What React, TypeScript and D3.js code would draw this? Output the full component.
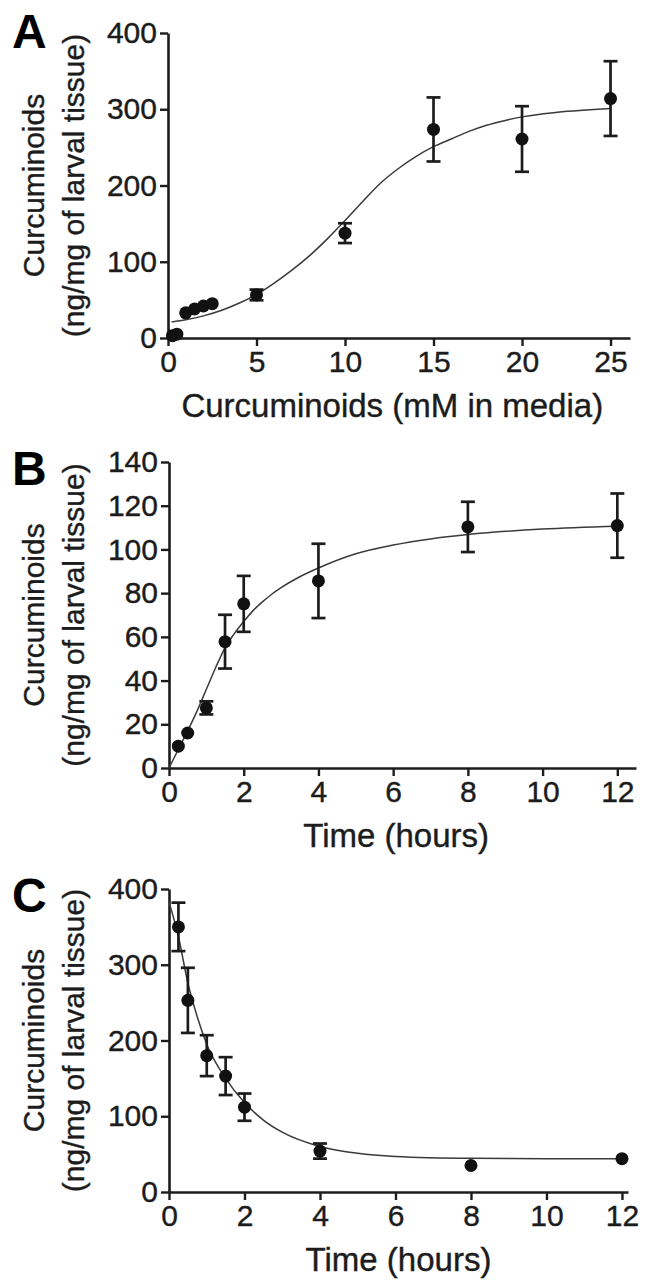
import React, { useEffect, useRef } from "react";
import * as d3 from "d3";

// Panel A: uptake vs concentration in media
const concA = [0.25, 0.5, 1, 1.5, 2, 2.5, 5, 10, 15, 20, 25];
const meanA = [3, 5, 33, 38, 42, 45, 56.5, 137.5, 273.5, 261, 314];
const errA = [0, 0, 0, 0, 0, 0, 7, 13, 42, 43, 49];
const fitXA = [0.2, 1, 2, 3, 4, 5, 6, 7, 8, 9, 10, 11, 12, 13, 14, 15, 16, 17, 18, 19, 20, 22, 25];
const fitYA = [21, 24, 29, 36, 45.5, 57, 72, 89, 108, 130, 154, 179, 203, 222, 238, 251, 261, 271, 279, 285, 290, 296, 301];

// Panel B: uptake over time
const timeB = [0.25, 0.5, 1, 1.5, 2, 4, 8, 12];
const meanB = [10, 16, 27.5, 57.8, 75.1, 85.6, 110.3, 110.9];
const errB = [0, 0, 3, 12.3, 12.8, 17, 11.5, 14.7];
const fitXB = [0, 0.25, 0.5, 0.75, 1, 1.25, 1.5, 1.75, 2, 2.25, 2.5, 2.75, 3, 3.5, 4, 5, 6, 7, 8, 10, 12];
const fitYB = [0, 8.5, 17, 26, 36, 46, 55, 61.5, 67, 72, 76, 79.5, 82.5, 87.5, 91.5, 98, 102, 104.8, 106.8, 109.3, 110.6];

// Panel C: clearance over time
const timeC = [0.25, 0.5, 1, 1.5, 2, 4, 8, 12];
const meanC = [350, 253, 180, 153, 112, 54, 35, 44];
const errC = [32, 43, 27, 25, 18, 10, 0, 0];
const fitXC = [0, 0.25, 0.5, 0.75, 1, 1.5, 2, 2.5, 3, 4, 5, 6, 8, 10, 12];
const fitYC = [383, 337, 276, 231, 195, 150, 118, 95, 79, 60, 51, 47, 44.5, 44, 44];

const ticksA = { x: [0, 5, 10, 15, 20, 25], y: [0, 100, 200, 300, 400] };
const ticksB = { x: [0, 2, 4, 6, 8, 10, 12], y: [0, 20, 40, 60, 80, 100, 120, 140] };
const ticksC = { x: [0, 2, 4, 6, 8, 10, 12], y: [0, 100, 200, 300, 400] };

const FONT = "'Liberation Sans', Arial, Helvetica, sans-serif";
const INK = "#1c1c1c";

type PanelSpec = {
  letter: string;
  xs: number[];
  ys: number[];
  errs: number[];
  fitX: number[];
  fitY: number[];
  ticks: { x: number[]; y: number[] };
  xDomain: [number, number];
  xRange: [number, number];
  yDomain: [number, number];
  yRange: [number, number];
  xTitle: string;
  letterY: number;
};

const panels: PanelSpec[] = [
  {
    letter: "A", xs: concA, ys: meanA, errs: errA, fitX: fitXA, fitY: fitYA, ticks: ticksA,
    xDomain: [0, 26.1], xRange: [168, 630], yDomain: [0, 400], yRange: [338, 33],
    xTitle: "Curcuminoids (mM in media)", letterY: 48,
  },
  {
    letter: "B", xs: timeB, ys: meanB, errs: errB, fitX: fitXB, fitY: fitYB, ticks: ticksB,
    xDomain: [0, 12.5], xRange: [169, 636], yDomain: [0, 140], yRange: [768, 462],
    xTitle: "Time (hours)", letterY: 485,
  },
  {
    letter: "C", xs: timeC, ys: meanC, errs: errC, fitX: fitXC, fitY: fitYC, ticks: ticksC,
    xDomain: [0, 12.16], xRange: [169, 628], yDomain: [0, 400], yRange: [1192, 889],
    xTitle: "Time (hours)", letterY: 912,
  },
];

function drawPanel(svg: d3.Selection<SVGSVGElement, unknown, null, undefined>, p: PanelSpec) {
  const g = svg.append("g");
  const x = d3.scaleLinear().domain(p.xDomain).range(p.xRange);
  const y = d3.scaleLinear().domain(p.yDomain).range(p.yRange);
  const x0 = p.xRange[0];
  const yBase = p.yRange[0];

  // axes
  const xAxis = d3.axisBottom(x).tickValues(p.ticks.x).tickSize(8).tickSizeOuter(0).tickPadding(5).tickFormat(d3.format("d") as any);
  const yAxis = d3.axisLeft(y).tickValues(p.ticks.y).tickSize(8).tickSizeOuter(0).tickPadding(3).tickFormat(d3.format("d") as any);

  const gx = g.append("g").attr("transform", `translate(0,${yBase})`).call(xAxis);
  const gy = g.append("g").attr("transform", `translate(${x0},0)`).call(yAxis);

  [gx, gy].forEach((a) => {
    a.select(".domain").attr("stroke", INK).attr("stroke-width", 2.6);
    a.selectAll(".tick line").attr("stroke", INK).attr("stroke-width", 2.4);
    a.selectAll(".tick text")
      .attr("fill", INK).attr("stroke", INK).attr("stroke-width", 0.4)
      .attr("font-family", FONT).attr("font-size", 30);
  });
  gx.selectAll(".tick text").attr("dy", "0.71em");

  // titles
  const yMid = (p.yRange[0] + p.yRange[1]) / 2;
  const lastTick = x(p.ticks.x[p.ticks.x.length - 1]);
  const titleText = (sel: d3.Selection<SVGTextElement, unknown, null, undefined>, size: number) =>
    sel.attr("font-family", FONT).attr("font-size", size).attr("fill", INK).attr("stroke", INK).attr("stroke-width", 0.4);

  titleText(
    g.append("text").attr("transform", `translate(44,${yMid}) rotate(-90)`).attr("text-anchor", "middle"),
    30
  ).text("Curcuminoids");
  titleText(
    g.append("text").attr("transform", `translate(84,${yMid}) rotate(-90)`).attr("text-anchor", "middle"),
    30
  ).text("(ng/mg of larval tissue)");
  titleText(
    g.append("text")
      .attr("x", (x0 + lastTick) / 2 + 3)
      .attr("y", yBase + 79)
      .attr("text-anchor", "middle"),
    33
  ).text(p.xTitle);

  g.append("text")
    .attr("x", 12).attr("y", p.letterY)
    .attr("font-family", FONT).attr("font-size", 48).attr("font-weight", "bold").attr("fill", "#000")
    .text(p.letter);

  // fitted curve
  const pts = p.fitX.map((v, i) => [v, p.fitY[i]] as [number, number]);
  const line = d3.line<[number, number]>().x((d) => x(d[0])).y((d) => y(d[1])).curve(d3.curveMonotoneX);
  g.append("path").datum(pts).attr("fill", "none").attr("stroke", "#3a3a3a").attr("stroke-width", 1.5).attr("d", line);

  // error bars
  const cap = 7;
  p.xs.forEach((v, i) => {
    const e = p.errs[i];
    if (!e) return;
    const cx = x(v);
    const top = y(p.ys[i] + e);
    const bot = y(p.ys[i] - e);
    const eg = g.append("g").attr("stroke", INK).attr("stroke-width", 2.7);
    eg.append("line").attr("x1", cx).attr("x2", cx).attr("y1", top).attr("y2", bot);
    eg.append("line").attr("x1", cx - cap).attr("x2", cx + cap).attr("y1", top).attr("y2", top);
    eg.append("line").attr("x1", cx - cap).attr("x2", cx + cap).attr("y1", bot).attr("y2", bot);
  });

  // points
  g.selectAll("circle.pt")
    .data(p.xs)
    .enter()
    .append("circle")
    .attr("class", "pt")
    .attr("cx", (d) => x(d))
    .attr("cy", (_d, i) => y(p.ys[i]))
    .attr("r", 6.5)
    .attr("fill", "#111");
}

export default function App() {
  const ref = useRef<SVGSVGElement | null>(null);

  useEffect(() => {
    if (!ref.current) return;
    const svg = d3.select(ref.current);
    svg.selectAll("*").remove();
    svg.append("rect").attr("width", 651).attr("height", 1284).attr("fill", "#fff");
    panels.forEach((p) => drawPanel(svg, p));
  }, []);

  return (
    <svg
      ref={ref}
      width={651}
      height={1284}
      style={{ position: "absolute", left: 0, top: 0, display: "block" }}
    />
  );
}
